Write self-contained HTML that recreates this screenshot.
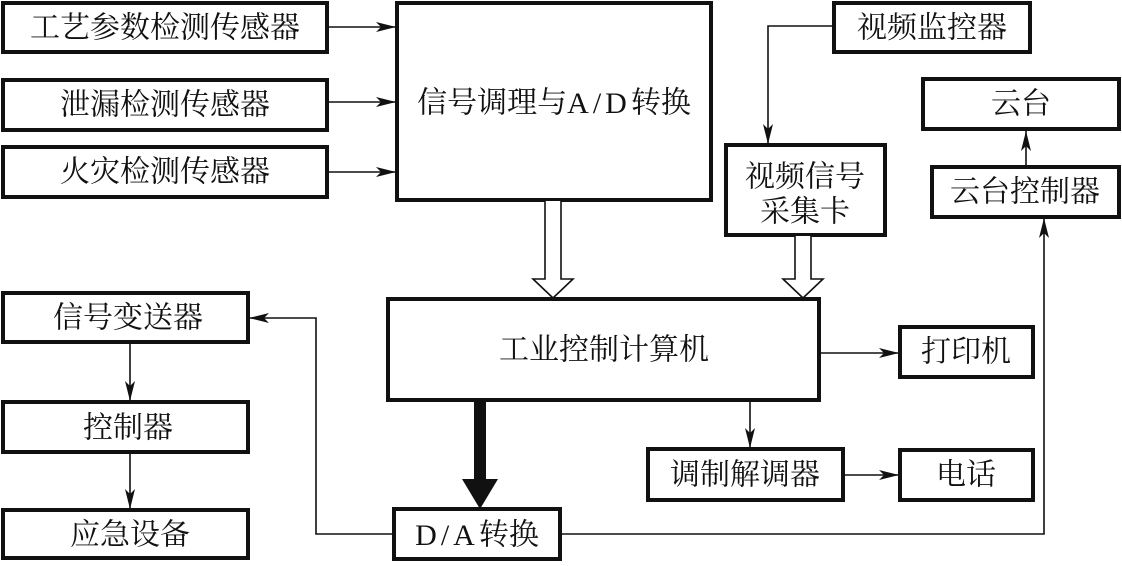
<!DOCTYPE html>
<html><head><meta charset="utf-8"><style>
html,body{margin:0;padding:0;background:#fff;}
svg text{font-family:"Liberation Serif","Noto Serif CJK SC",serif;font-size:30px;fill:#111;text-anchor:middle;dominant-baseline:central;}
</style></head><body>
<svg width="1122" height="561" viewBox="0 0 1122 561" xmlns="http://www.w3.org/2000/svg">
<defs>
<marker id="a" viewBox="0 0 20 10" refX="20" refY="5" markerWidth="20" markerHeight="10" markerUnits="userSpaceOnUse" orient="auto">
<path d="M0,0 L20,5 L0,10 L5,5 Z" fill="#111"/></marker>
</defs>
<g fill="none" stroke="#111" stroke-width="4">
<rect x="3" y="3" width="324" height="49"/>
<rect x="3" y="80" width="324" height="50"/>
<rect x="3" y="147" width="324" height="50"/>
<rect x="397" y="3" width="314" height="197"/>
<rect x="834" y="3" width="196" height="49"/>
<rect x="726" y="145" width="159" height="90"/>
<rect x="923" y="79" width="196" height="50"/>
<rect x="932" y="167" width="187" height="50"/>
<rect x="388" y="299" width="431" height="101"/>
<rect x="900" y="327" width="133" height="50"/>
<rect x="648" y="449" width="195" height="51"/>
<rect x="900" y="450" width="133" height="50"/>
<rect x="394" y="509" width="166" height="50"/>
<rect x="3" y="293" width="245" height="49"/>
<rect x="3" y="402" width="245" height="50"/>
<rect x="3" y="510" width="245" height="48"/>
</g>
<g fill="none" stroke="#111" stroke-width="1.6">
<line x1="327" y1="27" x2="396" y2="27" marker-end="url(#a)"/>
<line x1="327" y1="102" x2="396" y2="102" marker-end="url(#a)"/>
<line x1="327" y1="172" x2="396" y2="172" marker-end="url(#a)"/>
<polyline points="834,26 768,26 768,144" marker-end="url(#a)"/>
<line x1="1026" y1="167" x2="1026" y2="131" marker-end="url(#a)"/>
<polyline points="560,534 1044,534 1044,218" marker-end="url(#a)"/>
<line x1="819" y1="353" x2="899" y2="353" marker-end="url(#a)"/>
<line x1="750" y1="400" x2="750" y2="448" marker-end="url(#a)"/>
<line x1="843" y1="475" x2="899" y2="475" marker-end="url(#a)"/>
<polyline points="394,534 316,534 316,318 249,318" marker-end="url(#a)"/>
<line x1="130" y1="342" x2="130" y2="401" marker-end="url(#a)"/>
<line x1="130" y1="452" x2="130" y2="509" marker-end="url(#a)"/>
<path d="M545,201 L545,279 L533,279 L553,298 L573,279 L561,279 L561,201" fill="#fff"/>
<path d="M795,236 L795,279 L783,279 L803,298 L823,279 L811,279 L811,236" fill="#fff"/>
</g>
<rect x="474" y="400" width="12" height="80" fill="#111"/>
<path d="M462,479 L498,479 L480,509 Z" fill="#111"/>
<text x="165" y="28">工艺参数检测传感器</text>
<text x="165" y="105">泄漏检测传感器</text>
<text x="165" y="172">火灾检测传感器</text>
<text x="554" y="103">信号调理与<tspan letter-spacing="4">A/D</tspan>转换</text>
<text x="932" y="28">视频监控器</text>
<text x="805" y="177">视频信号</text>
<text x="805" y="212">采集卡</text>
<text x="1021" y="104">云台</text>
<text x="1025" y="192">云台控制器</text>
<text x="604" y="350">工业控制计算机</text>
<text x="966" y="352">打印机</text>
<text x="745" y="475">调制解调器</text>
<text x="966" y="475">电话</text>
<text x="477" y="535"><tspan letter-spacing="4">D/A</tspan>转换</text>
<text x="128" y="318">信号变送器</text>
<text x="128" y="428">控制器</text>
<text x="130" y="535">应急设备</text>
</svg>
</body></html>
